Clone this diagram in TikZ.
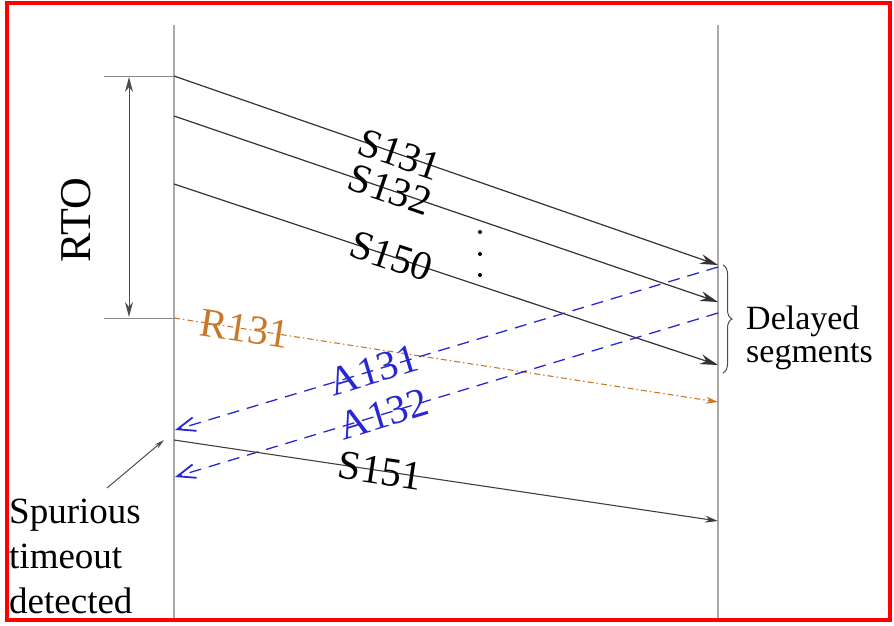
\documentclass[tikz,border=0pt]{standalone}
\usepackage{fontspec}
\setmainfont{Liberation Serif}
\usetikzlibrary{arrows.meta,decorations.pathreplacing}
\definecolor{rorange}{RGB}{200,120,40}
\definecolor{ablue}{RGB}{40,40,210}
\definecolor{tline}{RGB}{170,170,170}
\begin{document}
\begin{tikzpicture}[x=1pt,y=-1pt,
  timeline/.style={draw=tline, line width=1.5pt},
  seg/.style={draw=black!80, line width=1.2pt, -{Stealth[length=18pt,width=10pt]}},
  segsmall/.style={draw=black!75, line width=1.1pt, -{Stealth[length=13pt,width=7pt]}},
  ack/.style={draw=ablue, line width=1.3pt, dash pattern=on 12pt off 8pt, -{Straight Barb[length=18pt,width=14pt,line width=1.8pt]}},
  retx/.style={draw=rorange, line width=1.1pt, dash pattern=on 6pt off 3pt on 1.5pt off 3pt, -{Stealth[length=12pt,width=7pt]}},
  lab/.style={font=\fontsize{41}{41}\selectfont, inner sep=0pt, sloped},
  note/.style={inner sep=0pt, align=left},
  tick/.style={draw=tline!80!black, line width=1pt}]
\useasboundingbox (0,0) rectangle (894,625);
\draw[red, line width=4pt] (7,3) rectangle (890,620);

% timelines
\coordinate (Ltop) at (174,25); \coordinate (Lbot) at (174,618);
\coordinate (Rtop) at (718,25); \coordinate (Rbot) at (718,618);
\draw[timeline] (Ltop) -- (Lbot);
\draw[timeline] (Rtop) -- (Rbot);

% RTO markers
\coordinate (t1a) at (104,76); \coordinate (t1b) at (174,76);
\coordinate (t2a) at (104,318); \coordinate (t2b) at (174,318);
\draw[tick] (t1a) -- (t1b);
\draw[tick] (t2a) -- (t2b);
\coordinate (rtoA) at (129,77); \coordinate (rtoB) at (129,317);
\draw[draw=black!70, line width=1pt, {Stealth[length=15pt,width=8pt]}-{Stealth[length=15pt,width=8pt]}] (rtoA) -- (rtoB);
\node[rotate=90, inner sep=0pt, font=\fontsize{44}{44}\selectfont] (rto) at (76,220) {RTO};

% segments
\coordinate (s131a) at (174,76);  \coordinate (s131b) at (718,265);
\coordinate (s132a) at (174,116); \coordinate (s132b) at (718,302);
\coordinate (s150a) at (174,184); \coordinate (s150b) at (718,365);
\draw[seg] (s131a) -- node[lab, pos=0.415] (l131) {S131} (s131b);
\draw[seg] (s132a) -- node[lab, pos=0.397] (l132) {S132} (s132b);
\draw[seg] (s150a) -- node[lab, pos=0.40] (l150) {S150} (s150b);

% dots
\fill[black] (480,232) circle (2pt) (480,254) circle (2pt) (480,275) circle (2pt);

% retransmission
\coordinate (r131a) at (174,318); \coordinate (r131b) at (718,402);
\draw[retx] (r131a) -- node[lab, pos=0.13, text=rorange] (lr131) {R131} (r131b);

% acks
\coordinate (a131a) at (718,267); \coordinate (a131b) at (175,430);
\coordinate (a132a) at (718,313); \coordinate (a132b) at (175,477);
\draw[ack] (a131a) -- node[lab, pos=0.634, text=ablue] (la131) {A131} (a131b);
\draw[ack] (a132a) -- node[lab, pos=0.616, text=ablue] (la132) {A132} (a132b);

% S151
\coordinate (s151a) at (174,440); \coordinate (s151b) at (718,521);
\draw[segsmall] (s151a) -- node[lab, pos=0.379] (l151) {S151} (s151b);

% brace and delayed label
\coordinate (brA) at (723,265); \coordinate (brB) at (723,373);
\draw[black!70, line width=1pt, decorate, decoration={brace, amplitude=9pt}] (brA) -- (brB);
\node[note, anchor=west, font=\fontsize{34}{33}\selectfont] (delayed) at (746,338) {Delayed\\segments};

% spurious timeout
\node[note, anchor=west, font=\fontsize{37}{45}\selectfont] (spur) at (9,556) {Spurious\\timeout\\detected};
\coordinate (spA) at (107,488); \coordinate (spB) at (164,440);
\draw[draw=black!70, line width=1pt, -{Stealth[length=10pt,width=5pt]}] (spA) -- (spB);
\end{tikzpicture}
\end{document}
